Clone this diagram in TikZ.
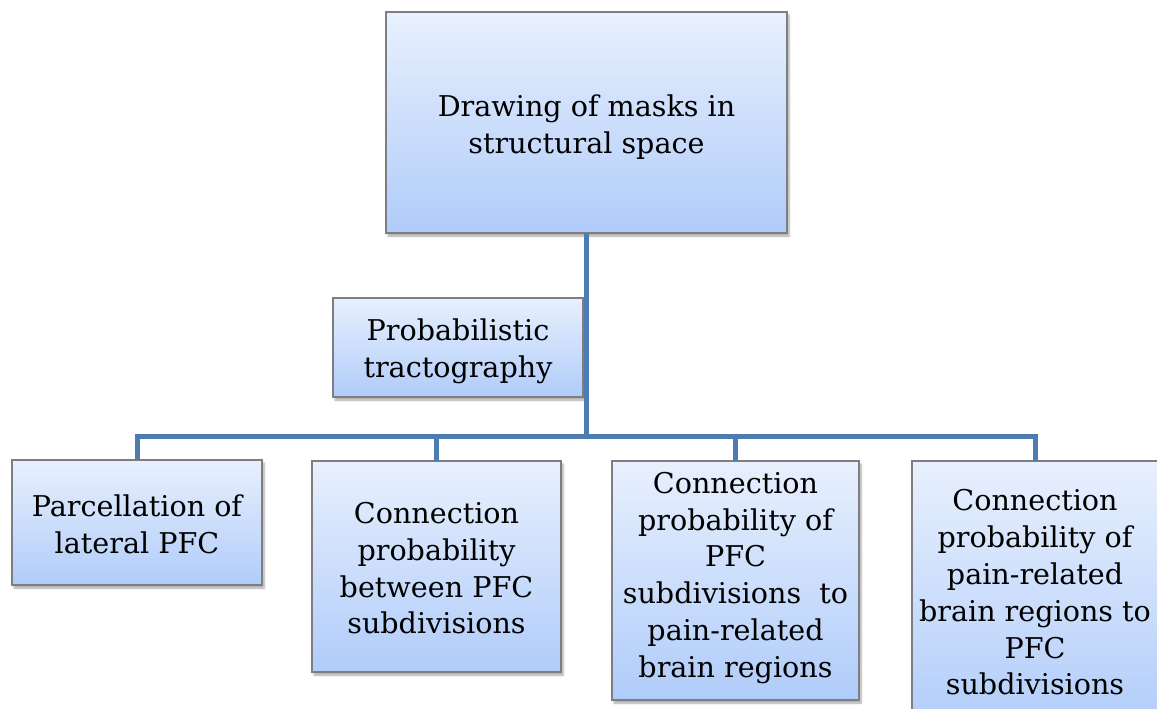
\documentclass[tikz,border=0pt]{standalone}
\usepackage{fontspec}
\setmainfont{DejaVu Serif}
\usetikzlibrary{shadows.blur}
\definecolor{connblue}{RGB}{77,124,178}
\definecolor{boxtop}{RGB}{232,240,253}
\definecolor{boxbot}{RGB}{176,204,250}
\definecolor{boxedge}{RGB}{125,125,130}
\newcommand{\fl}{\rule{0pt}{22pt}}
\tikzset{
  stepbox/.style={draw=boxedge, line width=1.1pt, top color=boxtop, bottom color=boxbot,
    inner sep=0pt, outer sep=0pt,
    blur shadow={shadow xshift=2pt, shadow yshift=-3pt, shadow blur steps=6, shadow opacity=35}},
  boxtext/.style={anchor=north, inner sep=0pt, align=center, font=\fontsize{28.6}{36.8}\selectfont},
  conn/.style={draw=connblue, line width=5pt, line join=miter}
}
\begin{document}
\begin{tikzpicture}[x=1pt,y=-1pt]
\useasboundingbox (0,0) rectangle (1157,709);
\clip (0,0) rectangle (1157,709);
\node[stepbox, minimum width=401pt, minimum height=221pt] (top) at (586.5,122.5) {};
\node[stepbox, minimum width=250pt, minimum height=99pt] (prob) at (458,347.5) {};
\node[stepbox, minimum width=250pt, minimum height=125pt] (b1) at (137,522.5) {};
\node[stepbox, minimum width=249pt, minimum height=211pt] (b2) at (436.5,566.5) {};
\node[stepbox, minimum width=247pt, minimum height=239pt] (b3) at (735.5,580.5) {};
\node[stepbox, minimum width=246pt, minimum height=273pt] (b4) at (1035,597.5) {};
\node[boxtext] (topt) at (586.5,94.7) {\fl Drawing of masks in\\structural space};
\node[boxtext] (probt) at (458,318.5) {\fl Probabilistic\\tractography};
\node[boxtext] (b1t) at (137,494.7) {\fl Parcellation of\\lateral PFC};
\node[boxtext] (b2t) at (436.5,501.3) {\fl Connection\\probability\\between PFC\\subdivisions};
\node[boxtext] (b3t) at (735.5,471) {\fl Connection\\probability of\\PFC\\subdivisions\ \ to\\pain-related\\brain regions};
\node[boxtext] (b4t) at (1035,488.7) {\fl Connection\\probability of\\pain-related\\brain regions to\\PFC\\subdivisions};
\coordinate (j) at (586.5,436);
\draw[conn] (top.south) -- (j);
\draw[conn] (b1.north) |- (j);
\draw[conn] (b4.north) |- (j);
\draw[conn] (b2.north) -- (b2.north |- j);
\draw[conn] (b3.north) -- (b3.north |- j);
\end{tikzpicture}
\end{document}
